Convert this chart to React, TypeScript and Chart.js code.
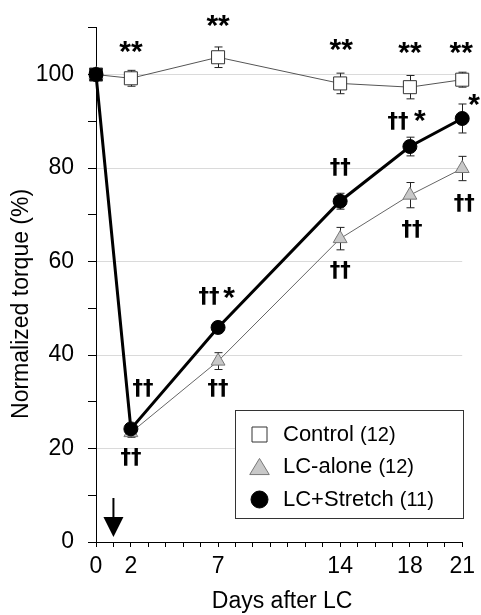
import React, { useEffect, useRef } from 'react';
import { Chart, registerables } from 'chart.js';

Chart.register(...registerables);

// ---------- data ----------
const DAYS = [0, 2, 7, 14, 18, 21];
const X_TICK_LABELS = [0, 2, 7, 14, 18, 21];
const Y_TICK_LABELS = [0, 20, 40, 60, 80, 100];
const Y_GRID_VALUES = [20, 40, 60, 80, 100];

const CONTROL_MEAN = [100, 99.2, 103.7, 98.1, 97.3, 98.9];
const CONTROL_SEM = [0, 1.7, 2.2, 2.2, 2.5, 1.6];
const ALONE_MEAN = [100, 23.4, 38.7, 64.9, 74.2, 79.9];
const ALONE_SEM = [0, 1.0, 1.8, 2.4, 2.7, 2.6];
const STRETCH_MEAN = [100, 24.2, 45.9, 72.9, 84.6, 90.6];
const STRETCH_SEM = [0, 0.8, 0.9, 1.7, 2.0, 3.1];

const SERIES_NAMES = ['Control', 'LC-alone', 'LC+Stretch'];
const SERIES_N = ['(12)', '(12)', '(11)'];

const ARROW_DAY = 1;
const X_TITLE = 'Days after LC';
const Y_TITLE = 'Normalized torque (%)';

// significance marks: series index, point index, text
const MARK_SERIES = [0, 0, 0, 0, 0, 2, 2, 2, 2, 2, 2, 2, 1, 1, 1, 1, 1];
const MARK_POINT = [1, 2, 3, 4, 5, 1, 2, 2, 3, 4, 4, 5, 1, 2, 3, 4, 5];
const MARK_TEXT = ['**', '**', '**', '**', '**', '††', '††', '*', '††', '††', '*', '*', '††', '††', '††', '††', '††'];

// ---------- styles ----------
const FONT = "'Liberation Sans', Arial, sans-serif";
const MARK_OFFSETS: [number, number][] = [
  [0, -23], [0, -28], [1, -30], [0, -31], [-1, -24],
  [12, -37], [-9, -27], [11, -26], [0, -30], [-12, -22], [10, -23], [12, -10],
  [0, 28], [0, 31], [0, 35], [2, 38], [2, 38],
];

const SERIES_STYLE = [
  { shape: 'rect', fill: '#ffffff', stroke: '#333333' },
  { shape: 'triangle', fill: '#c8c8c8', stroke: '#777777' },
  { shape: 'circle', fill: '#000000', stroke: '#000000' },
];

const MEANS = [CONTROL_MEAN, ALONE_MEAN, STRETCH_MEAN];
const SEMS = [CONTROL_SEM, ALONE_SEM, STRETCH_SEM];

function drawShape(ctx: CanvasRenderingContext2D, shape: string, x: number, y: number, s: number, fill: string, stroke: string) {
  ctx.save();
  ctx.beginPath();
  if (shape === 'rect') {
    ctx.rect(x - s / 2, y - s / 2, s, s);
  } else if (shape === 'triangle') {
    const w = s * 1.15;
    const h = s * 0.95;
    ctx.moveTo(x, y - h / 2);
    ctx.lineTo(x + w / 2, y + h / 2);
    ctx.lineTo(x - w / 2, y + h / 2);
    ctx.closePath();
  } else {
    ctx.arc(x, y, s / 2, 0, Math.PI * 2);
  }
  ctx.fillStyle = fill;
  ctx.fill();
  ctx.strokeStyle = stroke;
  ctx.lineWidth = 1;
  ctx.stroke();
  ctx.restore();
}

const decorPlugin = {
  id: 'decor',
  beforeDatasetsDraw(chart: any) {
    const ctx: CanvasRenderingContext2D = chart.ctx;
    const xs = chart.scales.x;
    const ys = chart.scales.y;
    ctx.save();
    ctx.strokeStyle = '#222';
    ctx.lineWidth = 1;
    SEMS.forEach((sem, si) => {
      sem.forEach((e, i) => {
        if (!e) return;
        const x = Math.round(xs.getPixelForValue(DAYS[i])) + 0.5;
        const yt = ys.getPixelForValue(MEANS[si][i] + e);
        const yb = ys.getPixelForValue(MEANS[si][i] - e);
        ctx.beginPath();
        ctx.moveTo(x, yt);
        ctx.lineTo(x, yb);
        ctx.moveTo(x - 4, yt);
        ctx.lineTo(x + 4, yt);
        ctx.moveTo(x - 4, yb);
        ctx.lineTo(x + 4, yb);
        ctx.stroke();
      });
    });
    ctx.restore();
  },
  afterDatasetsDraw(chart: any) {
    const ctx: CanvasRenderingContext2D = chart.ctx;
    const xs = chart.scales.x;
    const ys = chart.scales.y;
    const ca = chart.chartArea;
    ctx.save();
    ctx.fillStyle = '#000';
    ctx.textAlign = 'center';
    ctx.textBaseline = 'alphabetic';
    // significance marks
    MARK_TEXT.forEach((t, k) => {
      const si = MARK_SERIES[k];
      const pi = MARK_POINT[k];
      const px = xs.getPixelForValue(DAYS[pi]);
      const py = ys.getPixelForValue(MEANS[si][pi]);
      const [dx, dy] = MARK_OFFSETS[k];
      const star = t.indexOf('*') >= 0;
      if (star) {
        ctx.font = `bold 30px ${FONT}`;
        (ctx as any).letterSpacing = '0px';
        ctx.fillText(t, px + dx, py + dy + 6);
      } else {
        ctx.font = `bold 21px 'DejaVu Sans', ${FONT}`;
        (ctx as any).letterSpacing = '0px';
        ctx.fillText(t, px + dx, py + dy + 3);
      }
    });
    (ctx as any).letterSpacing = '0px';

    // arrow
    const ax = xs.getPixelForValue(ARROW_DAY);
    const b = ca.bottom;
    ctx.strokeStyle = '#000';
    ctx.lineWidth = 2;
    ctx.beginPath();
    ctx.moveTo(ax, b - 44);
    ctx.lineTo(ax, b - 22);
    ctx.stroke();
    ctx.beginPath();
    ctx.moveTo(ax - 10, b - 25);
    ctx.lineTo(ax + 10, b - 25);
    ctx.lineTo(ax, b - 5);
    ctx.closePath();
    ctx.fill();

    // legend
    const lw = 228;
    const lh = 108;
    const lx = Math.round(ca.right - 227) + 0.5;
    const ly = Math.round(ca.bottom - 132) + 0.5;
    ctx.fillStyle = '#fff';
    ctx.fillRect(lx, ly, lw, lh);
    ctx.strokeStyle = '#333';
    ctx.lineWidth = 1;
    ctx.strokeRect(lx, ly, lw, lh);
    const rows = [24, 56, 89];
    const sizes = [15, 17, 17];
    SERIES_NAMES.forEach((name, i) => {
      const ry = ly + rows[i];
      const st = SERIES_STYLE[i];
      drawShape(ctx, st.shape, lx + 24, ry, sizes[i], st.fill, st.stroke);
      ctx.fillStyle = '#000';
      ctx.textAlign = 'left';
      ctx.textBaseline = 'middle';
      ctx.font = `22px ${FONT}`;
      const tx = lx + 47.5;
      ctx.fillText(name, tx, ry);
      const w = ctx.measureText(name + ' ').width;
      ctx.font = `20px ${FONT}`;
      ctx.fillText(SERIES_N[i], tx + w, ry + 1);
    });
    ctx.restore();
  },
  afterDraw(chart: any) {
    const ctx: CanvasRenderingContext2D = chart.ctx;
    const ca = chart.chartArea;
    ctx.save();
    ctx.fillStyle = '#000';
    ctx.font = `23px ${FONT}`;
    ctx.textAlign = 'center';
    ctx.textBaseline = 'middle';
    ctx.fillText(X_TITLE, (ca.left + ca.right) / 2 + 3, ca.bottom + 60);
    ctx.translate(22, (ca.top + ca.bottom) / 2 + 19);
    ctx.rotate(-Math.PI / 2);
    ctx.fillText(Y_TITLE, 0, 0);
    ctx.restore();
  },
};

export default function App() {
  const ref = useRef<HTMLCanvasElement | null>(null);
  useEffect(() => {
    if (!ref.current) return;
    Chart.defaults.font.family = FONT;
    const datasets = [
      {
        label: SERIES_NAMES[2],
        data: DAYS.map((d, i) => ({ x: d, y: STRETCH_MEAN[i] })),
        borderColor: '#000',
        borderWidth: 3,
        pointStyle: 'circle',
        pointRadius: 7,
        pointBackgroundColor: '#000',
        pointBorderColor: '#000',
        pointBorderWidth: 1,
        order: 0,
      },
      {
        label: SERIES_NAMES[1],
        data: DAYS.map((d, i) => ({ x: d, y: ALONE_MEAN[i] })),
        borderColor: '#666',
        borderWidth: 1,
        pointStyle: 'triangle',
        pointRadius: 8,
        pointBackgroundColor: '#c8c8c8',
        pointBorderColor: '#777',
        pointBorderWidth: 1,
        order: 1,
      },
      {
        label: SERIES_NAMES[0],
        data: DAYS.map((d, i) => ({ x: d, y: CONTROL_MEAN[i] })),
        borderColor: '#555',
        borderWidth: 1,
        pointStyle: 'rect',
        pointRadius: 9.2,
        pointBackgroundColor: DAYS.map((d) => (d === 0 ? '#000' : '#fff')),
        pointBorderColor: '#333',
        pointBorderWidth: 1,
        order: 2,
      },
    ];
    const chart = new Chart(ref.current, {
      type: 'line',
      data: { datasets: datasets as any },
      options: {
        responsive: false,
        animation: false,
        events: [],
        layout: { padding: { left: 0, top: 19, right: 17, bottom: 0 } },
        elements: { line: { tension: 0 } },
        datasets: { line: { clip: false } } as any,
        plugins: { legend: { display: false }, tooltip: { enabled: false }, title: { display: false } },
        scales: {
          x: {
            type: 'linear',
            min: 0,
            max: 21,
            afterFit: (s: any) => { s.height = 73; },
            border: { display: true, color: '#000', width: 1 },
            grid: { drawOnChartArea: false, drawTicks: true, tickLength: 5, tickColor: '#000' },
            ticks: {
              stepSize: 1,
              autoSkip: false,
              maxRotation: 0,
              padding: 6,
              color: '#000',
              font: { size: 23, family: FONT },
              callback: (v: any) => (X_TICK_LABELS.includes(Number(v)) ? String(v) : ''),
            },
          },
          y: {
            type: 'linear',
            min: 0,
            max: 110,
            afterFit: (s: any) => { s.width = 96; },
            border: { display: true, color: '#000', width: 1 },
            grid: {
              drawTicks: true,
              tickLength: 8,
              tickColor: '#000',
              color: (c: any) => (Y_GRID_VALUES.includes(c.tick?.value) ? '#dadada' : 'rgba(0,0,0,0)'),
            },
            ticks: {
              stepSize: 10,
              padding: 14,
              color: '#000',
              font: { size: 23, family: FONT },
              callback: (v: any) => (Y_TICK_LABELS.includes(Number(v)) ? String(v) : ''),
            },
          },
        },
      } as any,
      plugins: [decorPlugin],
    });
    return () => chart.destroy();
  }, []);
  return (
    <div style={{ position: 'absolute', left: 0, top: 0, width: 481, height: 615 }}>
      <canvas ref={ref} width={481} height={615} />
    </div>
  );
}
